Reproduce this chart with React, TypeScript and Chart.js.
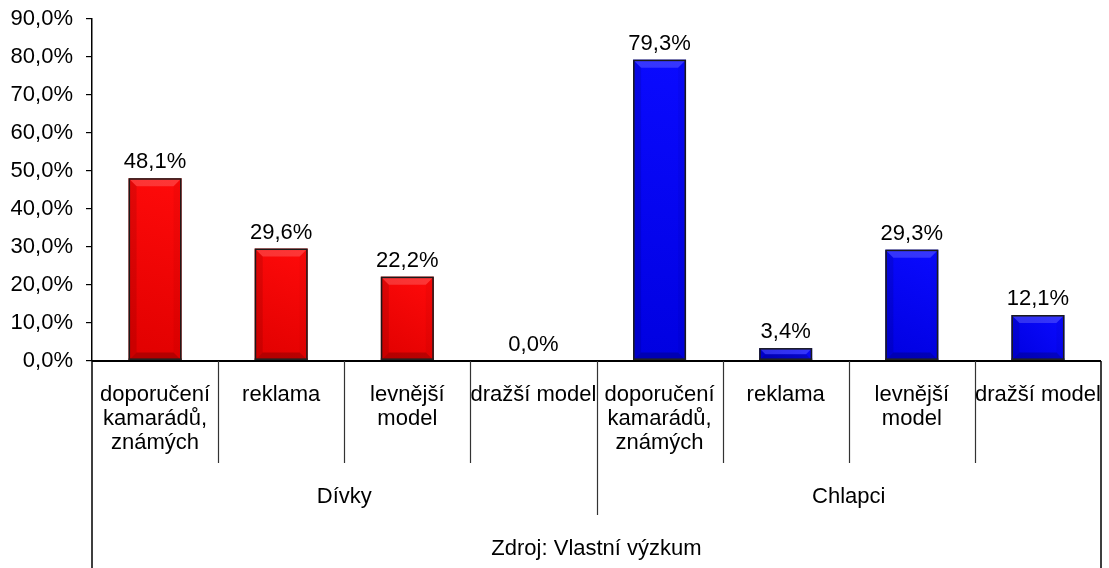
import { useEffect, useRef } from "react";
import { Chart, registerables } from "chart.js";

Chart.register(...registerables);

const categoryLines: string[][] = [
  ["doporučení", "kamarádů,", "známých"],
  ["reklama"],
  ["levnější", "model"],
  ["dražší model"],
  ["doporučení", "kamarádů,", "známých"],
  ["reklama"],
  ["levnější", "model"],
  ["dražší model"],
];
const groupLabels = ["Dívky", "Chlapci"];
const groupSizes = [4, 4];
const sourceLabel = "Zdroj: Vlastní výzkum";
const values = [48.1, 29.6, 22.2, 0.0, 79.3, 3.4, 29.3, 12.1];
const barColors = ["#FF0000", "#FF0000", "#FF0000", "#FF0000", "#0000FF", "#0000FF", "#0000FF", "#0000FF"];
const yMin = 0;
const yMax = 90;
const yStep = 10;

const FONT = "'Liberation Sans', Arial, sans-serif";
const FS = 22;

const fmt = (v: number) => v.toFixed(1).replace(".", ",") + "%";

const shade = (hex: string, f: number) => {
  const n = parseInt(hex.slice(1), 16);
  let r = (n >> 16) & 255, g = (n >> 8) & 255, b = n & 255;
  if (f < 0) { r = r * (1 + f); g = g * (1 + f); b = b * (1 + f); }
  else { r = r + (255 - r) * f; g = g + (255 - g) * f; b = b + (255 - b) * f; }
  return `rgb(${Math.round(r)},${Math.round(g)},${Math.round(b)})`;
};

const customPlugin = {
  id: "custom",
  afterDatasetsDraw(chart: any) {
    const ctx = chart.ctx as CanvasRenderingContext2D;
    const area = chart.chartArea;
    const meta = chart.getDatasetMeta(0);
    const H = chart.height;
    ctx.save();
    // bars with bevel
    meta.data.forEach((bar: any, i: number) => {
      const p = bar.getProps(["x", "y", "base", "width"], true);
      const l = p.x - p.width / 2, r = p.x + p.width / 2;
      const t = Math.min(p.y, p.base), bt = Math.max(p.y, p.base);
      const h = bt - t;
      if (h < 0.5) return;
      const col = barColors[i];
      const g = ctx.createLinearGradient(r, t, l, bt);
      g.addColorStop(0, shade(col, 0.04));
      g.addColorStop(1, shade(col, -0.12));
      ctx.fillStyle = g;
      ctx.fillRect(l, t, r - l, h);
      const b = Math.min(8, h / 2, (r - l) / 2);
      const poly = (pts: number[][], c: string) => {
        ctx.beginPath();
        ctx.moveTo(pts[0][0], pts[0][1]);
        for (let k = 1; k < pts.length; k++) ctx.lineTo(pts[k][0], pts[k][1]);
        ctx.closePath();
        ctx.fillStyle = c;
        ctx.fill();
      };
      poly([[l, t], [r, t], [r - b, t + b], [l + b, t + b]], "rgba(255,255,255,0.18)");
      poly([[l, bt], [r, bt], [r - b, bt - b], [l + b, bt - b]], "rgba(0,0,0,0.2)");
      poly([[l, t], [l + b, t + b], [l + b, bt - b], [l, bt]], "rgba(0,0,0,0.1)");
      poly([[r, t], [r - b, t + b], [r - b, bt - b], [r, bt]], "rgba(0,0,0,0.04)");
      ctx.strokeStyle = "#1a1a1a";
      ctx.lineWidth = 1.5;
      ctx.strokeRect(l + 0.75, t + 0.75, r - l - 1.5, h - 0.75);
      ctx.fillStyle = "#222";
      ctx.fillRect(l, bt - 2, r - l, 3);
    });

    // data labels
    ctx.fillStyle = "#000";
    ctx.font = `${FS}px ${FONT}`;
    ctx.textAlign = "center";
    ctx.textBaseline = "alphabetic";
    meta.data.forEach((bar: any, i: number) => {
      const p = bar.getProps(["x", "y"], true);
      ctx.fillText(fmt(values[i]), p.x, p.y - 10);
    });

    // axes and category dividers
    const n = values.length;
    const cw = (area.right - area.left) / n;
    ctx.strokeStyle = "#000";
    ctx.lineWidth = 2;
    ctx.beginPath();
    ctx.moveTo(area.left, area.bottom);
    ctx.lineTo(area.right, area.bottom);
    ctx.stroke();

    ctx.lineWidth = 1.5;
    ctx.beginPath();
    ctx.moveTo(area.left, area.bottom);
    ctx.lineTo(area.left, H);
    ctx.moveTo(area.right, area.bottom);
    ctx.lineTo(area.right, H);
    ctx.stroke();

    ctx.strokeStyle = "#333";
    ctx.lineWidth = 1.2;
    let idx = 0;
    const groupEnds = new Set<number>();
    groupSizes.forEach((s) => { idx += s; groupEnds.add(idx); });
    for (let k = 1; k < n; k++) {
      const x = Math.round(area.left + cw * k) + 0.5;
      ctx.beginPath();
      ctx.moveTo(x, area.bottom);
      ctx.lineTo(x, groupEnds.has(k) ? area.bottom + 154 : area.bottom + 102);
      ctx.stroke();
    }

    // category labels
    ctx.fillStyle = "#000";
    ctx.textAlign = "center";
    categoryLines.forEach((lines, k) => {
      const cx = area.left + cw * (k + 0.5);
      lines.forEach((ln, j) => {
        ctx.fillText(ln, cx, area.bottom + 40 + j * 24);
      });
    });
    // group labels
    let start = 0;
    groupLabels.forEach((g, gi) => {
      const s = groupSizes[gi];
      const cx = area.left + cw * (start + s / 2);
      ctx.fillText(g, cx, area.bottom + 142);
      start += s;
    });
    ctx.fillText(sourceLabel, (area.left + area.right) / 2, area.bottom + 194);
    ctx.restore();
  },
};

export default function App() {
  const ref = useRef<HTMLCanvasElement | null>(null);
  useEffect(() => {
    document.body.style.margin = "0";
    if (!ref.current) return;
    const chart = new Chart(ref.current, {
      type: "bar",
      data: {
        labels: categoryLines.map((l) => l.join(" ")),
        datasets: [
          {
            data: values,
            backgroundColor: "rgba(0,0,0,0)",
            borderWidth: 0,
            barPercentage: 0.42,
            categoryPercentage: 1,
          },
        ],
      },
      options: {
        responsive: false,
        animation: false,
        events: [],
        layout: { padding: { left: 0, top: 19, right: 8, bottom: 207 } },
        plugins: { legend: { display: false }, tooltip: { enabled: false } },
        scales: {
          x: { display: false },
          y: {
            min: yMin,
            max: yMax,
            afterFit: (s: any) => { s.width = 92; s.paddingTop = 0; s.paddingBottom = 0; },
            ticks: {
              stepSize: yStep,
              padding: 13,
              color: "#000",
              font: { family: FONT, size: FS },
              callback: (v: any) => fmt(Number(v)),
            },
            grid: { drawOnChartArea: false, drawTicks: true, tickLength: 6, color: "#000", lineWidth: 1.2 },
            border: { display: true, color: "#000", width: 1.5 },
          },
        },
      },
      plugins: [customPlugin],
    });
    return () => chart.destroy();
  }, []);
  return (
    <div style={{ width: 1109, height: 568 }}>
      <canvas ref={ref} width={1109} height={568} style={{ display: "block" }} />
    </div>
  );
}
